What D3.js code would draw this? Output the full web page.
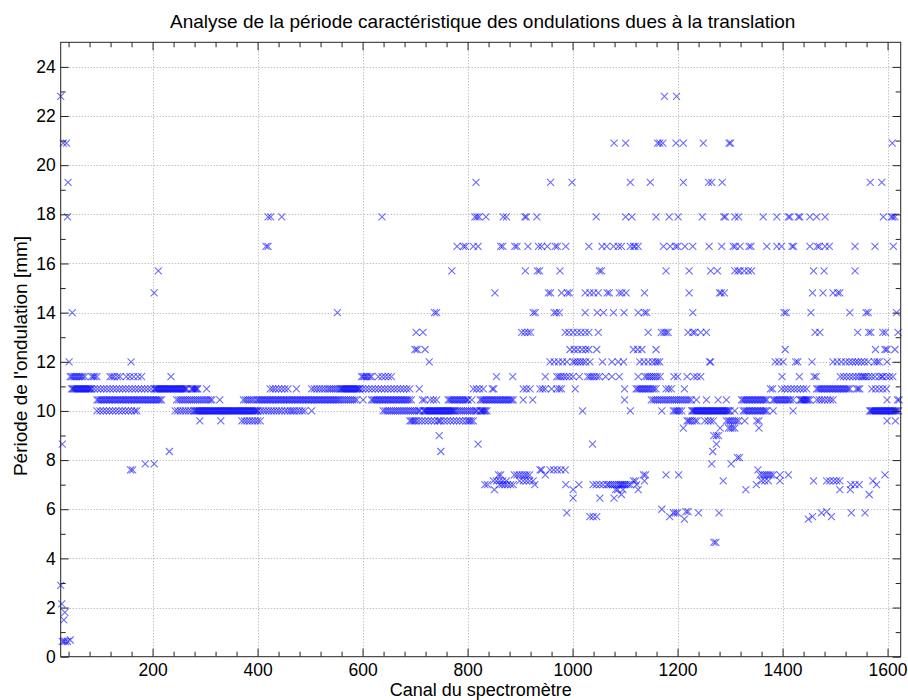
<!DOCTYPE html>
<html>
<head>
<meta charset="utf-8">
<script src="https://cdn.jsdelivr.net/npm/d3@7"></script>
<style>
  html, body { margin: 0; padding: 0; background: #ffffff; }
  svg { display: block; font-family: "Liberation Sans", Arial, sans-serif; }
</style>
</head>
<body>
<svg id="chart" width="908" height="700"></svg>
<script>
// Ripple period (mm) detected for each spectrometer channel.
// Periods fall on discrete levels; each level lists the channels where it was found.
const periodLevels = [
  22.8, 20.9, 19.3, 17.9, 16.7, 15.7, 14.8, 14.0, 13.2, 12.5, 12.0, 11.4, 10.9, 10.45, 10.0,
  9.6, 9.3, 9.0, 8.65, 8.35, 8.1, 7.85, 7.6, 7.4, 7.15, 7.0, 6.8, 6.6, 6.45, 6.0, 5.9, 5.85,
  5.7, 5.6, 4.65, 2.9, 2.15, 1.8, 1.5, 0.62, 0.68
];

const channelsByLevel = [
  // 22.8
  [25, 1175, 1198],
  // 20.9
  [30, 36, 1079, 1101, 1162, 1166, 1172, 1197, 1211, 1249, 1298, 1301, 1609],
  // 19.3
  [39, 816, 958, 999, 1110, 1148, 1211, 1259, 1265, 1285, 1567, 1589],
  // 17.9
  [38, 420, 425, 446, 637, 814, 818, 822, 835, 868, 874, 909, 912, 932, 1045, 1101, 1113, 1159,
   1184, 1201, 1247, 1288, 1291, 1309, 1316, 1363, 1389, 1411, 1414, 1430, 1433, 1452, 1465,
   1481, 1592, 1607, 1610, 1614],
  // 16.7
  [416, 420, 780, 792, 796, 811, 820, 863, 867, 890, 894, 915, 935, 941, 952, 967, 971, 987, 1031,
   1056, 1065, 1078, 1087, 1093, 1110, 1116, 1119, 1125, 1173, 1186, 1196, 1200, 1214, 1229, 1260,
   1284, 1306, 1310, 1319, 1336, 1340, 1370, 1389, 1398, 1418, 1421, 1452, 1466, 1470, 1481, 1489,
   1538, 1576, 1611],
  // 15.7
  [211, 770, 910, 933, 937, 976, 1051, 1055, 1178, 1222, 1263, 1276, 1309, 1315, 1319, 1327, 1335,
   1341, 1459, 1479, 1538],
  // 14.8
  [203, 852, 954, 958, 979, 990, 994, 1024, 1033, 1040, 1049, 1066, 1070, 1089, 1094, 1102, 1137,
   1222, 1280, 1283, 1289, 1457, 1477, 1496, 1505, 1509],
  // 14.0
  [47, 552, 737, 741, 925, 929, 965, 969, 975, 1024, 1047, 1059, 1078, 1098, 1125, 1137, 1141,
   1229, 1403, 1407, 1454, 1528, 1559, 1563, 1617],
  // 13.2
  [702, 715, 903, 909, 915, 920, 986, 993, 1001, 1009, 1016, 1024, 1031, 1049, 1144, 1169, 1174,
   1178, 1182, 1220, 1229, 1233, 1244, 1255, 1462, 1471, 1543, 1564, 1568, 1591, 1596, 1620],
  // 12.5
  [700, 704, 719, 995, 1003, 1010, 1018, 1025, 1031, 1046, 1116, 1124, 1132, 1159, 1405, 1577,
   1595, 1599, 1614],
  // 12.0
  [41, 159, 727, 957, 965, 973, 981, 989, 1001, 1005, 1010, 1015, 1020, 1025, 1033, 1057, 1075,
   1087, 1097, 1128, 1136, 1144, 1152, 1158, 1162, 1166, 1261, 1263, 1386, 1393, 1401, 1425, 1429,
   1456, 1496, 1504, 1512, 1520, 1527, 1533, 1539, 1544, 1550, 1556, 1563, 1575, 1580, 1584, 1599],
  // 11.4
  [43, 46, 49, 52, 55, 58, 61, 64, 67, 71, 84, 87, 90, 94, 119, 123, 127, 133, 138, 150, 157, 164,
   172, 179, 235, 598, 601, 604, 607, 610, 614, 617, 630, 637, 643, 649, 655, 855, 886, 948, 970,
   974, 978, 983, 988, 994, 1001, 1013, 1029, 1033, 1037, 1041, 1046, 1051, 1063, 1075, 1089, 1125,
   1138, 1142, 1146, 1150, 1154, 1158, 1162, 1167, 1193, 1200, 1218, 1231, 1237, 1244, 1399, 1432,
   1460, 1464, 1510, 1516, 1522, 1528, 1534, 1540, 1545, 1550, 1553, 1556, 1559, 1564, 1570, 1576,
   1584, 1589, 1591, 1598, 1604, 1610],
  // 10.9
  [46, 48, 50, 52, 54, 56, 58, 60, 62, 64, 66, 68, 70, 72, 74, 76, 78, 80, 82, 84, 89, 95, 101,
   107, 113, 119, 125, 131, 137, 143, 149, 155, 161, 167, 173, 179, 185, 191, 197, 203, 205, 207,
   209, 211, 213, 215, 217, 219, 221, 223, 225, 227, 229, 231, 233, 235, 237, 239, 241, 243, 245,
   247, 249, 251, 253, 255, 257, 259, 261, 263, 265, 274, 276, 278, 280, 282, 284, 286, 303, 424,
   429, 434, 440, 446, 452, 458, 474, 503, 508, 513, 518, 523, 528, 533, 537, 541, 545, 549, 553,
   557, 559, 561, 563, 565, 567, 569, 571, 573, 575, 577, 579, 581, 583, 585, 587, 589, 591, 593,
   595, 600, 606, 612, 618, 624, 630, 636, 642, 648, 654, 660, 666, 672, 678, 684, 690, 708, 811,
   817, 823, 830, 847, 850, 906, 912, 919, 938, 943, 948, 960, 970, 975, 979, 1005, 1099, 1121,
   1124, 1127, 1130, 1133, 1136, 1139, 1142, 1145, 1148, 1152, 1155, 1159, 1178, 1183, 1188, 1213,
   1377, 1381, 1398, 1404, 1410, 1416, 1422, 1428, 1434, 1440, 1446, 1465, 1468, 1471, 1474, 1477,
   1480, 1483, 1486, 1489, 1492, 1495, 1498, 1501, 1504, 1507, 1510, 1513, 1516, 1519, 1522, 1525,
   1528, 1541, 1544, 1547, 1570, 1577, 1584, 1591, 1598],
  // 10.45
  [94, 97, 100, 103, 106, 109, 112, 115, 118, 121, 124, 127, 130, 133, 136, 139, 142, 145, 148,
   151, 154, 157, 160, 163, 166, 169, 172, 175, 178, 181, 184, 187, 190, 193, 196, 199, 202, 205,
   208, 211, 214, 217, 246, 250, 254, 258, 262, 266, 270, 274, 278, 282, 286, 290, 294, 298, 302,
   306, 310, 313, 328, 373, 377, 381, 385, 389, 393, 398, 401, 404, 407, 410, 413, 416, 419, 422,
   425, 428, 431, 434, 437, 440, 443, 446, 449, 452, 455, 458, 461, 464, 467, 470, 473, 476, 479,
   482, 485, 488, 491, 494, 497, 500, 503, 506, 509, 512, 515, 518, 521, 524, 527, 530, 533, 536,
   539, 542, 545, 548, 551, 554, 557, 561, 565, 569, 573, 577, 581, 585, 589, 601, 617, 620, 623,
   626, 629, 632, 635, 638, 641, 644, 647, 650, 653, 656, 659, 662, 665, 668, 671, 674, 677, 680,
   683, 686, 689, 693, 714, 718, 729, 735, 741, 763, 766, 769, 772, 775, 778, 781, 784, 787, 790,
   793, 796, 799, 801, 808, 824, 827, 830, 833, 836, 839, 842, 845, 848, 851, 854, 857, 860, 863,
   866, 869, 872, 875, 878, 881, 884, 887, 906, 924, 1099, 1150, 1154, 1158, 1162, 1166, 1170,
   1174, 1178, 1182, 1186, 1190, 1194, 1198, 1202, 1206, 1210, 1214, 1218, 1222, 1226, 1236, 1255,
   1277, 1293, 1322, 1325, 1328, 1331, 1334, 1337, 1340, 1343, 1346, 1349, 1352, 1355, 1358, 1361,
   1364, 1367, 1370, 1382, 1385, 1388, 1391, 1394, 1397, 1400, 1403, 1406, 1409, 1412, 1415, 1420,
   1433, 1435, 1437, 1439, 1441, 1443, 1445, 1447, 1449, 1452, 1465, 1470, 1475, 1480, 1486, 1491,
   1496, 1599, 1619, 1622],
  // 10.0
  [94, 100, 106, 112, 118, 124, 130, 136, 142, 148, 154, 160, 166, 170, 243, 248, 253, 258, 263,
   268, 273, 278, 281, 283, 285, 287, 289, 291, 293, 295, 297, 299, 301, 303, 305, 307, 309, 311,
   313, 315, 317, 319, 321, 323, 325, 327, 329, 331, 333, 335, 337, 339, 341, 343, 345, 347, 349,
   351, 353, 355, 357, 359, 361, 363, 365, 367, 369, 371, 373, 375, 377, 379, 381, 383, 385, 387,
   389, 391, 393, 395, 397, 399, 401, 406, 411, 416, 421, 426, 431, 436, 441, 446, 452, 457, 462,
   466, 470, 475, 480, 485, 490, 503, 639, 643, 647, 651, 655, 659, 663, 667, 671, 675, 679, 683,
   687, 691, 695, 699, 703, 707, 709, 716, 718, 720, 722, 724, 726, 728, 730, 732, 734, 736, 738,
   740, 742, 744, 746, 748, 750, 752, 754, 756, 758, 760, 762, 764, 766, 768, 770, 772, 774, 776,
   780, 784, 788, 792, 796, 800, 804, 808, 812, 816, 818, 824, 826, 828, 830, 832, 834, 837, 1019,
   1110, 1170, 1192, 1195, 1198, 1201, 1204, 1208, 1227, 1229, 1231, 1233, 1235, 1237, 1239, 1241,
   1243, 1245, 1247, 1249, 1251, 1253, 1255, 1257, 1259, 1261, 1263, 1265, 1267, 1269, 1271, 1273,
   1275, 1277, 1279, 1281, 1283, 1285, 1287, 1289, 1291, 1293, 1295, 1297, 1300, 1309, 1325, 1328,
   1331, 1334, 1337, 1340, 1343, 1346, 1349, 1352, 1355, 1358, 1361, 1364, 1367, 1370, 1382, 1420,
   1566, 1568, 1570, 1572, 1574, 1576, 1578, 1580, 1582, 1584, 1586, 1588, 1590, 1592, 1594, 1596,
   1598, 1600, 1602, 1604, 1606, 1608, 1610, 1612, 1614, 1616, 1618, 1621],
  // 9.6
  [290, 330, 370, 375, 380, 385, 390, 395, 400, 405, 690, 693, 696, 699, 702, 707, 713, 719, 725,
   731, 737, 743, 746, 749, 755, 761, 767, 773, 779, 785, 791, 797, 801, 804, 807, 811, 1218, 1221,
   1224, 1228, 1233, 1237, 1252, 1258, 1263, 1268, 1293, 1297, 1300, 1304, 1308, 1312, 1316, 1328,
   1351, 1355, 1599, 1615],
  // 9.3
  [1211, 1281, 1297, 1301, 1305, 1309, 1355],
  // 9.0
  [746, 1269, 1274, 1278],
  // 8.65
  [28, 820, 1038, 1274],
  // 8.35
  [232, 749, 1267],
  // 8.1
  [1314, 1318],
  // 7.85
  [186, 203, 1265, 1302],
  // 7.6
  [158, 162, 938, 941, 957, 964, 971, 978, 986, 1353],
  // 7.4
  [859, 863, 889, 894, 899, 904, 909, 913, 918, 948, 1135, 1139, 1178, 1202, 1357, 1362, 1366,
   1370, 1374, 1378, 1382, 1395, 1411, 1595],
  // 7.15
  [849, 855, 861, 867, 874, 899, 906, 912, 918, 925, 1116, 1120, 1137, 1287, 1360, 1366, 1373,
   1395, 1459, 1484, 1490, 1497, 1503, 1509, 1572],
  // 7.0
  [833, 838, 861, 866, 871, 876, 882, 887, 928, 987, 1012, 1039, 1045, 1052, 1058, 1065, 1068,
   1072, 1076, 1080, 1084, 1088, 1091, 1093, 1096, 1099, 1102, 1106, 1110, 1122, 1350, 1530, 1538,
   1546, 1579],
  // 6.8
  [851, 1001, 1082, 1086, 1096, 1125, 1330, 1509, 1529],
  // 6.6
  [1093, 1565],
  // 6.45
  [1001, 1052, 1079],
  // 6.0
  [1170],
  // 5.9
  [1216, 1220, 1484],
  // 5.85
  [989, 1192, 1196, 1200, 1240, 1279, 1474, 1531, 1557],
  // 5.7
  [1033, 1039, 1046, 1185, 1457, 1493],
  // 5.6
  [1213, 1449],
  // 4.65
  [1269, 1273],
  // 2.9
  [25],
  // 2.15
  [27],
  // 1.8
  [33],
  // 1.5
  [31],
  // 0.62
  [28, 31, 34, 38],
  // 0.68
  [43]
];

const xMajorTicks = [200, 400, 600, 800, 1000, 1200, 1400, 1600];
const xMinorTicks = d3.range(40, 1625, 40).filter(v => v % 200 !== 0);
const yMajorTicks = [0, 2, 4, 6, 8, 10, 12, 14, 16, 18, 20, 22, 24];
const yMinorTicks = [1, 3, 5, 7, 9, 11, 13, 15, 17, 19, 21, 23];

const titleText = "Analyse de la période caractéristique des ondulations dues à la translation";
const xLabelText = "Canal du spectromètre";
const yLabelText = "Période de l'ondulation [mm]";

// Flatten level/channel lists into points
const points = [];
periodLevels.forEach((p, i) => {
  channelsByLevel[i].forEach(c => points.push({ channel: c, period: p }));
});

const svg = d3.select("#chart");
const plot = { left: 60.7, right: 900.7, top: 42.3, bottom: 656.7 };

const x = d3.scaleLinear().domain([25, 1625]).range([plot.left, plot.right]);
const y = d3.scaleLinear().domain([0, 25]).range([plot.bottom, plot.top]);

// Grid (dotted, at major ticks)
const grid = svg.append("g").attr("stroke", "#a8a8a8").attr("stroke-width", 1)
  .attr("stroke-dasharray", "1,2");
grid.selectAll("line.gx").data(xMajorTicks).join("line")
  .attr("x1", d => Math.round(x(d)) + 0.5).attr("x2", d => Math.round(x(d)) + 0.5)
  .attr("y1", plot.top).attr("y2", plot.bottom);
grid.selectAll("line.gy").data(yMajorTicks.filter(v => v > 0)).join("line")
  .attr("y1", d => Math.round(y(d)) + 0.5).attr("y2", d => Math.round(y(d)) + 0.5)
  .attr("x1", plot.left).attr("x2", plot.right);

// Markers
const xPath = "M-3.5,-3.5L3.5,3.5M-3.5,3.5L3.5,-3.5";
svg.append("g")
  .selectAll("path").data(points).join("path")
  .attr("d", xPath)
  .attr("transform", d => `translate(${x(d.channel)},${y(d.period)})`)
  .attr("fill", "none")
  .attr("stroke", "#0000ff")
  .attr("stroke-opacity", 0.58)
  .attr("stroke-width", 1.1);

// Axes: ticks pointing inward on all four sides
const tickFont = 17.5;
function styleAxis(g) {
  g.select(".domain").remove();
  g.selectAll(".tick line").attr("stroke", "#222");
  g.selectAll(".tick text").attr("fill", "#000").attr("font-size", tickFont)
    .attr("font-family", "'Liberation Sans', Arial, sans-serif");
}
const majorLen = 8, minorLen = 5;

svg.append("g").attr("transform", `translate(0,${plot.bottom})`)
  .call(d3.axisBottom(x).tickValues(xMajorTicks).tickSize(-majorLen).tickPadding(7).tickFormat(d3.format("d")))
  .call(styleAxis);
svg.append("g").attr("transform", `translate(0,${plot.bottom})`)
  .call(d3.axisBottom(x).tickValues(xMinorTicks).tickSize(-minorLen).tickFormat(""))
  .call(styleAxis);
svg.append("g").attr("transform", `translate(0,${plot.top})`)
  .call(d3.axisTop(x).tickValues(xMajorTicks).tickSize(-majorLen).tickFormat(""))
  .call(styleAxis);
svg.append("g").attr("transform", `translate(0,${plot.top})`)
  .call(d3.axisTop(x).tickValues(xMinorTicks).tickSize(-minorLen).tickFormat(""))
  .call(styleAxis);

svg.append("g").attr("transform", `translate(${plot.left},0)`)
  .call(d3.axisLeft(y).tickValues(yMajorTicks).tickSize(-majorLen).tickPadding(5).tickFormat(d3.format("d")))
  .call(styleAxis);
svg.append("g").attr("transform", `translate(${plot.left},0)`)
  .call(d3.axisLeft(y).tickValues(yMinorTicks).tickSize(-minorLen).tickFormat(""))
  .call(styleAxis);
svg.append("g").attr("transform", `translate(${plot.right},0)`)
  .call(d3.axisRight(y).tickValues(yMajorTicks).tickSize(-majorLen).tickFormat(""))
  .call(styleAxis);
svg.append("g").attr("transform", `translate(${plot.right},0)`)
  .call(d3.axisRight(y).tickValues(yMinorTicks).tickSize(-minorLen).tickFormat(""))
  .call(styleAxis);

// Box
svg.append("rect")
  .attr("x", plot.left).attr("y", plot.top)
  .attr("width", plot.right - plot.left).attr("height", plot.bottom - plot.top)
  .attr("fill", "none").attr("stroke", "#222").attr("stroke-width", 1);

// Title and axis labels
svg.append("text")
  .attr("x", (plot.left + plot.right) / 2 + 2).attr("y", 28)
  .attr("text-anchor", "middle").attr("font-size", 19).attr("fill", "#000")
  .text(titleText);
svg.append("text")
  .attr("x", (plot.left + plot.right) / 2).attr("y", 696)
  .attr("text-anchor", "middle").attr("font-size", 18).attr("fill", "#000")
  .text(xLabelText);
svg.append("text")
  .attr("transform", `translate(27,356) rotate(-90)`)
  .attr("text-anchor", "middle").attr("font-size", 19).attr("fill", "#000")
  .text(yLabelText);
</script>
</body>
</html>
